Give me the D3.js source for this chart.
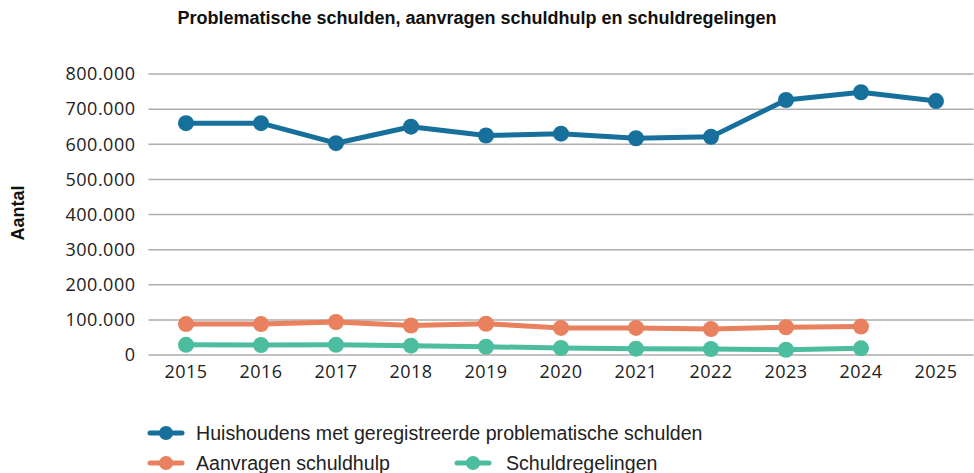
<!DOCTYPE html>
<html>
<head>
<meta charset="utf-8">
<script src="https://cdn.jsdelivr.net/npm/d3@7"></script>
<style>
  body { margin: 0; background: #fff; }
  .tick text { font-family: "Open Sans", sans-serif; font-size: 18px; fill: #222; letter-spacing: 0.5px; }
  .title { font-family: "Liberation Sans", sans-serif; font-weight: bold; font-size: 18px; fill: #111; }
  .legend text { font-family: "Liberation Sans", sans-serif; font-size: 19.6px; fill: #222; }
  .ylabel { font-family: "Liberation Sans", sans-serif; font-weight: bold; font-size: 18px; fill: #111; }
</style>
</head>
<body>
<div id="chart"></div>
<script>
// Problematische schulden, aanvragen schuldhulp en schuldregelingen

var years = ["2015", "2016", "2017", "2018", "2019", "2020", "2021", "2022", "2023", "2024", "2025"];
var huishoudens = [660000, 660000, 603000, 650000, 625000, 630000, 617000, 621000, 726000, 748000, 723000];
var aanvragen = [88000, 88000, 94000, 84000, 89000, 77000, 77000, 74000, 79000, 81000];
var regelingen = [29000, 28500, 29000, 26500, 23500, 20000, 18000, 17000, 15000, 19000];
var yTicks = [0, 100000, 200000, 300000, 400000, 500000, 600000, 700000, 800000];

var seriesNames = ["Huishoudens met geregistreerde problematische schulden", "Aanvragen schuldhulp", "Schuldregelingen"];
var seriesColors = ["#17709b", "#e9805e", "#4dbd9f"];

var svgWidth = 974;
var svgHeight = 473;

var margin = {
    top: 74,
    right: 0.5,
    bottom: 118,
    left: 148.5
}

var width = svgWidth - margin.left - margin.right;
var height = svgHeight - margin.top - margin.bottom;

var nl = d3.formatLocale({ decimal: ",", thousands: ".", grouping: [3], currency: ["€", ""] });
var fmt = nl.format(",");

var svg = d3.select("#chart")
    .append("svg")
    .attr("width", svgWidth)
    .attr("height", svgHeight);

svg.append("text")
    .attr("class", "title")
    .attr("x", 477)
    .attr("y", 24)
    .attr("text-anchor", "middle")
    .text("Problematische schulden, aanvragen schuldhulp en schuldregelingen");

var chartGroup = svg.append("g")
    .attr("transform", `translate(${margin.left}, ${margin.top})`);

var xScale = d3.scaleBand()
    .domain(years)
    .range([0, width])
    .padding(0);

var yScale = d3.scaleLinear()
    .domain([0, 800000])
    .range([height, 0]);

// gridlines
chartGroup.append("g")
    .selectAll("line")
    .data(yTicks)
    .enter()
    .append("line")
    .attr("x1", 0)
    .attr("x2", width)
    .attr("y1", d => yScale(d))
    .attr("y2", d => yScale(d))
    .attr("stroke", "#adadad")
    .attr("stroke-width", 1.5);

var leftAxis = d3.axisLeft(yScale)
    .tickValues(yTicks)
    .tickFormat(d => fmt(d))
    .tickSize(0)
    .tickPadding(13);

var yAxis = chartGroup.append("g").call(leftAxis);
yAxis.select(".domain").remove();

var bottomAxis = d3.axisBottom(xScale)
    .tickSize(0)
    .tickPadding(9);

var xAxis = chartGroup.append("g")
    .attr("transform", `translate(0, ${height})`)
    .call(bottomAxis);
xAxis.select(".domain").remove();
xAxis.selectAll("text").attr("dy", "0.75em");

svg.append("text")
    .attr("class", "ylabel")
    .attr("transform", "translate(24, 213) rotate(-90)")
    .attr("text-anchor", "middle")
    .text("Aantal");

var allSeries = [huishoudens, aanvragen, regelingen];

var line = d3.line()
    .x((d, i) => xScale(years[i]) + xScale.bandwidth() / 2)
    .y(d => yScale(d));

// draw bottom series first so blue lies on top
[2, 1, 0].forEach(function(s) {
    var values = allSeries[s];
    chartGroup.append("path")
        .datum(values)
        .attr("fill", "none")
        .attr("stroke", seriesColors[s])
        .attr("stroke-width", 5)
        .attr("stroke-linejoin", "round")
        .attr("d", line);

    chartGroup.selectAll(".dot" + s)
        .data(values)
        .enter()
        .append("circle")
        .attr("cx", (d, i) => xScale(years[i]) + xScale.bandwidth() / 2)
        .attr("cy", d => yScale(d))
        .attr("r", 8)
        .attr("fill", seriesColors[s]);
});

// legend
var legendPos = [[148, 433], [148, 463], [455, 463]];
var legendText = [196, 196, 506];

var legend = svg.append("g").attr("class", "legend");

seriesNames.forEach(function(name, s) {
    var p = legendPos[s];
    legend.append("line")
        .attr("x1", p[0] + 2)
        .attr("x2", p[0] + 34)
        .attr("y1", p[1])
        .attr("y2", p[1])
        .attr("stroke", seriesColors[s])
        .attr("stroke-width", 5)
        .attr("stroke-linecap", "round");
    legend.append("circle")
        .attr("cx", p[0] + 18)
        .attr("cy", p[1])
        .attr("r", 7)
        .attr("fill", seriesColors[s]);
    legend.append("text")
        .attr("x", legendText[s])
        .attr("y", p[1])
        .attr("dy", "0.35em")
        .text(name);
});
</script>
</body>
</html>
